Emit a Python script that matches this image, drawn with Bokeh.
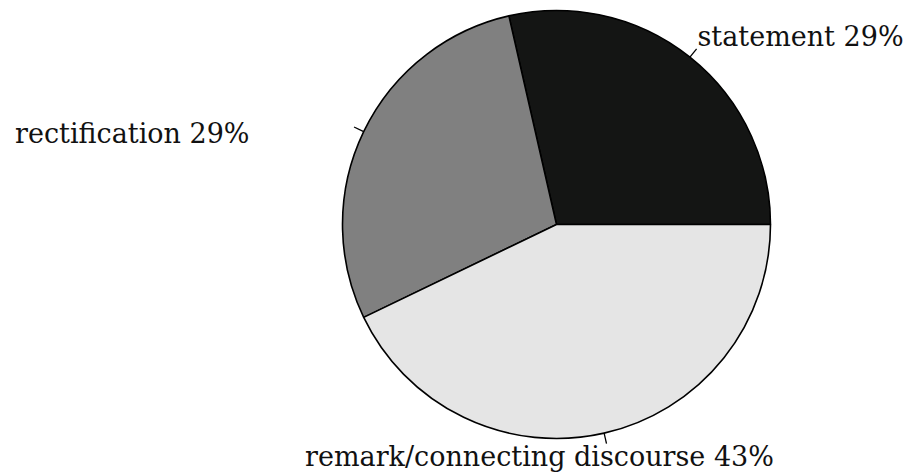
import numpy as np
from bokeh.plotting import figure
from bokeh.models import Range1d, ColumnDataSource
from bokeh.core.properties import value
from bokeh.embed import file_html
from bokeh.resources import INLINE

# Distribution of categories (counts)
categories = ["statement", "rectification", "remark/connecting discourse"]
counts = [2, 2, 3]
colors = ["#141514", "#808080", "#e5e5e5"]

W, H = 912, 472
cx, cy, r = 556, H - 224, 214

total = sum(counts)
fracs = np.array(counts) / total
ends = np.cumsum(fracs) * 2 * np.pi
starts = ends - fracs * 2 * np.pi
mids = (starts + ends) / 2
pcts = [f"{round(f * 100)}%" for f in fracs]

p = figure(width=W, height=H, output_backend="svg", toolbar_location=None,
           x_range=Range1d(0, W), y_range=Range1d(0, H),
           x_axis_type=None, y_axis_type=None, min_border=0)
p.grid.visible = False
p.outline_line_color = None
p.background_fill_color = "white"
p.border_fill_color = "white"

src = ColumnDataSource(dict(start=starts, end=ends, color=colors))
p.wedge(x=cx, y=cy, radius=r, start_angle="start", end_angle="end",
        fill_color="color", line_color="black", line_width=1.6, source=src)

# short leader ticks at each slice's mid-angle
x0 = cx + r * np.cos(mids)
y0 = cy + r * np.sin(mids)
x1 = cx + r * 1.05 * np.cos(mids)
y1 = cy + r * 1.05 * np.sin(mids)
p.segment(x0=x0, y0=y0, x1=x1, y1=y1, line_color="black", line_width=1.3)

# label anchors (pixel coordinates from the top, vertical middle of the text)
lab_x = [697, 249, 539]
lab_y = [H - 36, H - 133, H - 456]
aligns = ["left", "right", "center"]
for name, pct, lx, ly, al in zip(categories, pcts, lab_x, lab_y, aligns):
    p.text(x=[lx], y=[ly], text=[f"{name} {pct}"], text_align=al,
           text_baseline="middle", text_font=value("DejaVu Serif"),
           text_font_size="27px", text_color="#111111")

open("out.html", "w").write(file_html(p, INLINE))
